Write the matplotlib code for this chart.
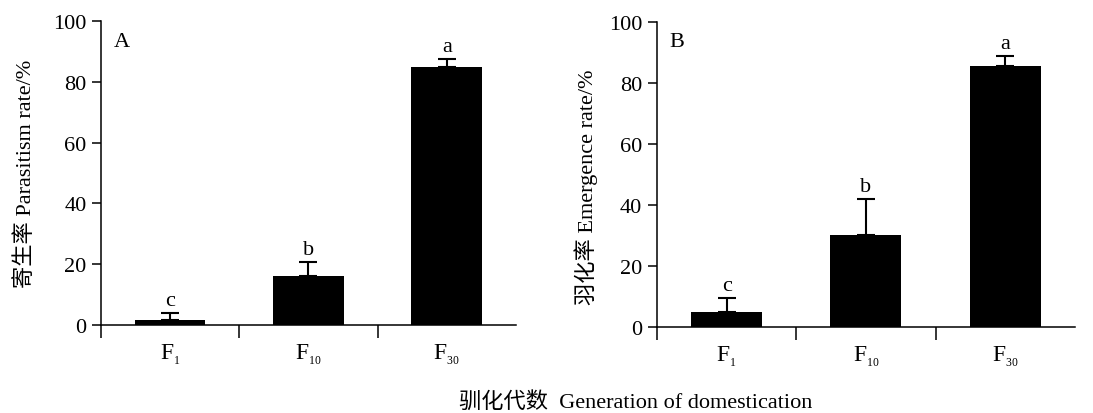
import matplotlib
matplotlib.use('Agg')
import matplotlib.pyplot as plt
import numpy as np

plt.rcParams['font.family'] = ['Liberation Serif', 'Noto Sans CJK SC']
plt.rcParams['mathtext.fontset'] = 'custom'
plt.rcParams['mathtext.rm'] = 'Liberation Serif'
plt.rcParams['mathtext.it'] = 'Liberation Serif'

gens = [r'$\mathrm{F}_{_{1}}$', r'$\mathrm{F}_{_{10}}$', r'$\mathrm{F}_{_{30}}$']
parasitism = [1.8, 16.1, 85.0]
parasitism_err = [2.0, 4.5, 2.6]
parasitism_sig = ['c', 'b', 'a']
emergence = [4.8, 30.3, 85.5]
emergence_err = [4.7, 11.7, 3.3]
emergence_sig = ['c', 'b', 'a']

fig = plt.figure(figsize=(10.93, 4.14), dpi=100)
axA = fig.add_axes([0.0924, 0.2126, 0.3796, 0.7344])
axB = fig.add_axes([0.601, 0.2077, 0.3825, 0.7373])


def DrawPanel(ax, vals, errs, sig, ylabel, letter, pad, ly):
    x = np.arange(len(vals))
    ax.bar(x, vals, width=0.51, color='black', zorder=2)
    ax.errorbar(x, vals, yerr=[np.zeros(len(errs)), errs], fmt='none',
                ecolor='black', elinewidth=1.5, capsize=6.5, capthick=1.5, zorder=1)
    for xi, v, e, s in zip(x, vals, errs, sig):
        ax.text(xi, v + e + 1.0, s, ha='center', va='bottom', fontsize=16)
    ax.set_xlim(-0.5, 2.5)
    ax.set_ylim(0, 100)
    ax.spines['top'].set_visible(False)
    ax.spines['right'].set_visible(False)
    ax.spines['left'].set_linewidth(1.1)
    ax.spines['bottom'].set_linewidth(1.1)
    ax.set_yticks([0, 20, 40, 60, 80, 100])
    ax.tick_params(axis='y', direction='out', length=6.5, width=1.1, labelsize=16, pad=4)
    ax.set_xticks([-0.5, 0.5, 1.5])
    ax.set_xticklabels([])
    ax.tick_params(axis='x', which='major', direction='out', length=9, width=1.1)
    ax.set_xticks(x, minor=True)
    ax.set_xticklabels(gens, minor=True, fontsize=17)
    ax.tick_params(axis='x', which='minor', length=0, pad=12)
    ax.set_ylabel(ylabel, fontsize=16, labelpad=pad)
    ax.yaxis.label.set_y(ly)
    ax.text(0.03, 0.965, letter, transform=ax.transAxes, ha='left', va='top', fontsize=16)


DrawPanel(axA, parasitism, parasitism_err, parasitism_sig, '寄生率 Parasitism rate/%', 'A', 12, 0.5)
DrawPanel(axB, emergence, emergence_err, emergence_sig, '羽化率 Emergence rate/%', 'B', 8, 0.46)

fig.text(0.582, 0.029, '驯化代数  Generation of domestication', ha='center', va='center', fontsize=16)

fig.savefig('out.png', dpi=100)
